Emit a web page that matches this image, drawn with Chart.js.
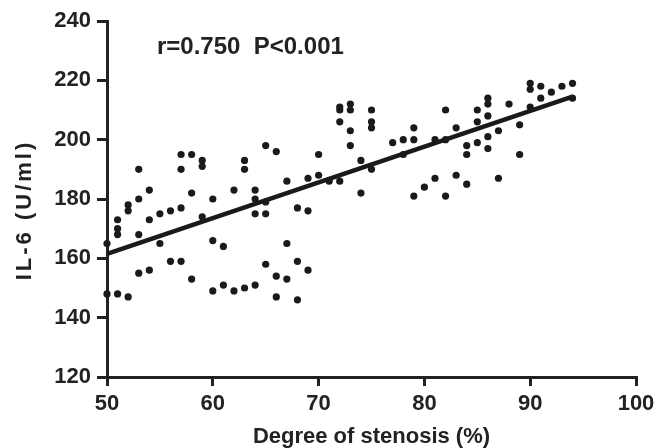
<!DOCTYPE html>
<html>
<head>
<meta charset="utf-8">
<script src="https://cdn.jsdelivr.net/npm/chart.js@4.4.1/dist/chart.umd.min.js"></script>
<style>
    html, body { margin: 0; padding: 0; background: #fff; }
    #wrap { width: 661px; height: 448px; }
</style>
</head>
<body>
<div id="wrap"><canvas id="stenosisChart" width="661" height="448"></canvas></div>
<script>
// Darlık derecesi (%) ve IL-6 değerleri
const stenosis = [50, 50, 51, 52, 51, 51, 51, 52, 52, 53, 53, 53, 53, 54, 54, 54, 55, 55, 56, 56,
    57, 57, 57, 57, 58, 58, 58, 59, 59, 59, 60, 60, 60, 61, 61, 62, 62, 63, 63, 63,
    64, 64, 64, 64, 65, 65, 65, 65, 66, 66, 66, 67, 67, 67, 68, 68, 68, 69, 69, 69,
    70, 70, 71, 72, 72, 72, 72, 73, 73, 73, 73, 74, 74, 75, 75, 75, 75, 77, 78, 78,
    79, 79, 79, 80, 81, 81, 82, 82, 82, 83, 83, 84, 84, 84, 85, 85, 85, 86, 86, 86,
    86, 86, 87, 87, 88, 89, 89, 90, 90, 90, 91, 91, 92, 93, 94, 94];
const il6 = [165, 148, 148, 147, 173, 170, 168, 178, 176, 190, 180, 168, 155, 183, 173, 156, 175, 165, 176, 159,
    195, 190, 177, 159, 195, 182, 153, 193, 191, 174, 180, 166, 149, 164, 151, 183, 149, 193, 190, 150,
    183, 180, 175, 151, 198, 179, 175, 158, 196, 154, 147, 186, 165, 153, 177, 159, 146, 187, 176, 156,
    195, 188, 186, 186, 211, 210, 206, 212, 210, 203, 198, 182, 193, 210, 206, 204, 190, 199, 200, 195,
    204, 200, 181, 184, 200, 187, 210, 200, 181, 204, 188, 198, 195, 185, 210, 206, 199, 214, 212, 208,
    201, 197, 203, 187, 212, 205, 195, 219, 217, 211, 218, 214, 216, 218, 219, 214];

// Regresyon doğrusu uç noktaları
const fitX = [50, 94];
const fitY = [161.5, 214.5];

const annotationText = "r=0.750  P<0.001";
const yTitle = "IL-6 (U/ml)";
const xTitle = "Degree of stenosis (%)";

const ink = "#222";
const fontFamily = "'Liberation Sans', Arial, sans-serif";

const points = stenosis.map((x, i) => ({ x: x, y: il6[i] }));
const fitLine = fitX.map((x, i) => ({ x: x, y: fitY[i] }));

// Y ekseni başlığı ve r/P yazısı için küçük eklenti
const extraText = {
    id: "extraText",
    afterDraw(chart) {
        const ctx = chart.ctx;
        const area = chart.chartArea;
        ctx.save();
        ctx.fillStyle = ink;
        ctx.font = "bold 24px " + fontFamily;
        ctx.textAlign = "left";
        ctx.textBaseline = "middle";
        ctx.fillText(annotationText, area.left + 50, area.top + 26);

        ctx.translate(25, (area.top + area.bottom) / 2 + 11);
        ctx.rotate(-Math.PI / 2);
        ctx.font = "bold 22px " + fontFamily;
        ctx.letterSpacing = "3px";
        ctx.textAlign = "center";
        ctx.fillText(yTitle, 0, 0);
        ctx.restore();
    }
};

new Chart(document.getElementById("stenosisChart"), {
    type: "scatter",
    data: {
        datasets: [
            {
                label: "IL-6",
                data: points,
                backgroundColor: "#1a1a1a",
                borderWidth: 0,
                pointRadius: 3.6,
                clip: false,
            },
            {
                label: "fit",
                data: fitLine,
                showLine: true,
                borderColor: "#1a1a1a",
                borderWidth: 4.5,
                pointRadius: 0,
                fill: false,
            },
        ],
    },
    options: {
        responsive: false,
        animation: false,
        layout: { padding: { top: 21, right: 25, left: 0, bottom: 0 } },
        plugins: { legend: { display: false }, tooltip: { enabled: false } },
        scales: {
            x: {
                type: "linear",
                min: 50,
                max: 100,
                afterFit: s => { s.height = 71; },
                ticks: { stepSize: 10, color: ink, padding: 5, font: { family: fontFamily, size: 22, weight: "bold" } },
                grid: { drawOnChartArea: false, drawTicks: true, tickLength: 9, lineWidth: 3, color: ink },
                border: { display: true, width: 3, color: ink },
                title: {
                    display: true,
                    text: xTitle,
                    color: ink,
                    padding: { top: 0, bottom: 0 },
                    font: { family: fontFamily, size: 22, weight: "bold", lineHeight: 1 },
                },
            },
            y: {
                type: "linear",
                min: 120,
                max: 240,
                afterFit: s => { s.width = 107; },
                ticks: { stepSize: 20, color: ink, padding: 6, font: { family: fontFamily, size: 22, weight: "bold" } },
                grid: { drawOnChartArea: false, drawTicks: true, tickLength: 10, lineWidth: 3, color: ink },
                border: { display: true, width: 3, color: ink },
            },
        },
    },
    plugins: [extraText],
});
</script>
</body>
</html>
